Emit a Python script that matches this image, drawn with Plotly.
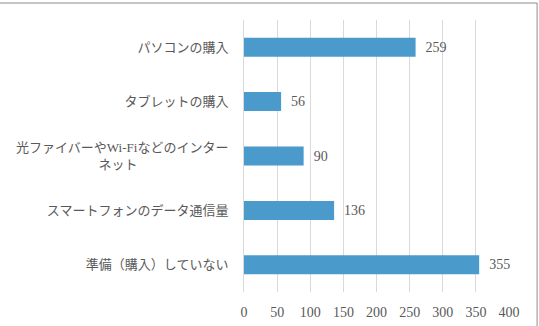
import plotly.graph_objects as go

categories = [
    "パソコンの購入",
    "タブレットの購入",
    "光ファイバーやWi-Fiなどのインター<br>ネット" + "\u3000" * 7,
    "スマートフォンのデータ通信量",
    "準備（購入）していない",
]
values = [259, 56, 90, 136, 355]
tick_vals = [0, 50, 100, 150, 200, 250, 300, 350, 400]

FONT = "Liberation Serif, Noto Sans CJK JP, serif"
GRAY = "#595959"

fig = go.Figure()
fig.add_trace(go.Bar(
    y=categories,
    x=values,
    orientation="h",
    marker=dict(color="#4A9BCC", line=dict(width=0)),
    text=values,
    texttemplate="  %{x}",
    textposition="outside",
    constraintext="none",
    textfont=dict(family=FONT, size=14, color=GRAY),
    cliponaxis=False,
))

fig.update_layout(
    width=539,
    height=326,
    margin=dict(l=244, r=30, t=20, b=34),
    paper_bgcolor="white",
    plot_bgcolor="white",
    bargap=0.65,
    showlegend=False,
    font=dict(family=FONT, size=13, color=GRAY),
    xaxis=dict(
        range=[0, 400],
        tickvals=tick_vals,
        showgrid=True,
        gridcolor="#D9D9D9",
        gridwidth=1,
        zeroline=False,
        showline=False,
        ticks="",
        automargin=False,
        ticklabelstandoff=10,
        tickfont=dict(family=FONT, size=14, color=GRAY),
    ),
    yaxis=dict(
        autorange="reversed",
        showgrid=False,
        showline=True,
        linecolor="#D9D9D9",
        linewidth=1,
        ticks="",
        automargin=False,
        ticklabelstandoff=12,
        tickfont=dict(family=FONT, size=13, color=GRAY),
    ),
    shapes=[
        dict(type="line", xref="paper", yref="paper",
             x0=-0.93, x1=1.106, y0=1.0625, y1=1.0625,
             line=dict(color="#8C8C8C", width=1)),
        dict(type="line", xref="paper", yref="paper",
             x0=1.106, x1=1.106, y0=1.0625, y1=-0.2,
             line=dict(color="#8C8C8C", width=1)),
    ],
)

fig.write_html("out.html")
